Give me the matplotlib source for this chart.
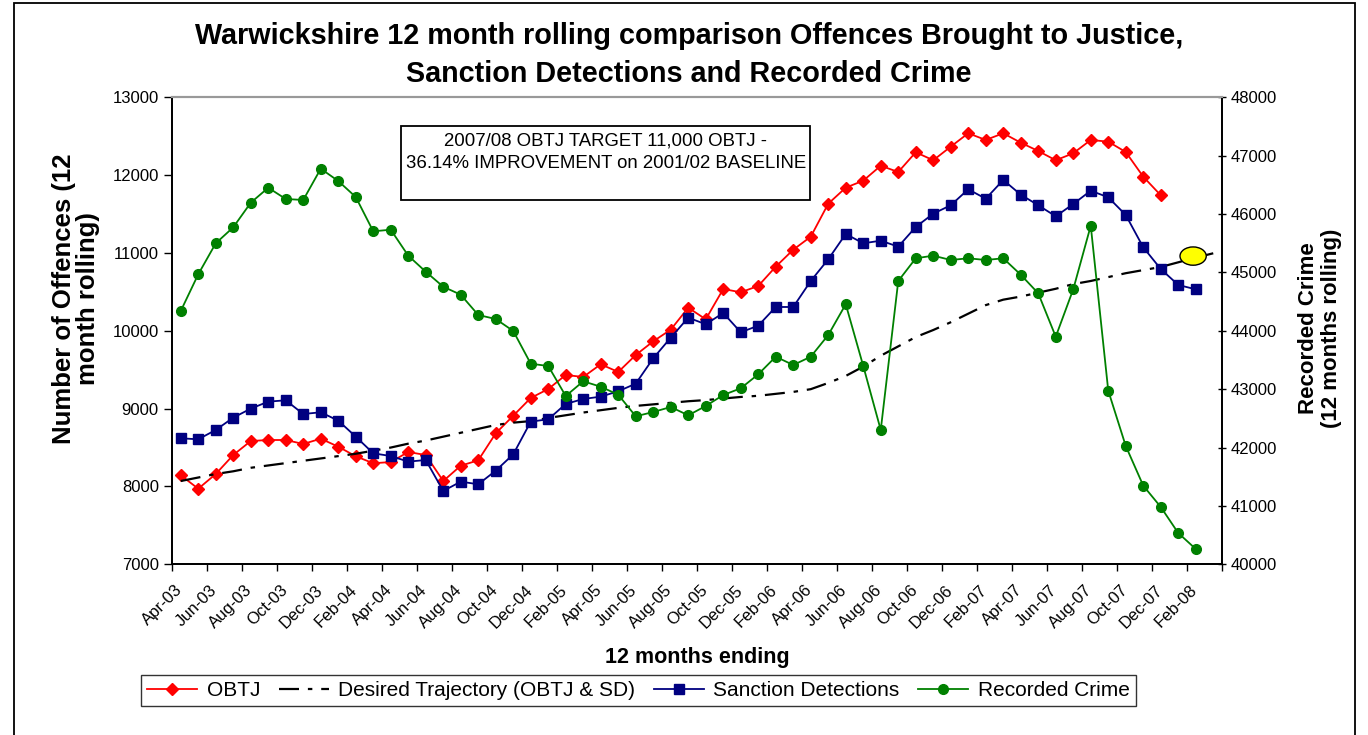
import matplotlib
matplotlib.use("Agg")
import matplotlib.pyplot as plt
from matplotlib.patches import Ellipse, Rectangle

plt.rcParams["font.family"] = ["Liberation Sans", "DejaVu Sans"]

# 12 months ending, Apr-03 .. Mar-08
months = ["Apr", "May", "Jun", "Jul", "Aug", "Sep", "Oct", "Nov", "Dec", "Jan", "Feb", "Mar"]
categories = [f"{months[k % 12]}-{3 + (k + 3) // 12:02d}" for k in range(60)]

obtj = [8144, 7971, 8160, 8404, 8584, 8597, 8597, 8546, 8614, 8511,
        8388, 8298, 8314, 8443, 8404, 8070, 8267, 8336, 8683, 8909,
        9137, 9252, 9432, 9407, 9570, 9471, 9689, 9865, 10015, 10297,
        10148, 10537, 10495, 10576, 10824, 11042, 11209, 11633, 11839, 11929,
        12121, 12040, 12294, 12191, 12366, 12538, 12452, 12538, 12417, 12310,
        12191, 12281, 12452, 12430, 12297, 11980, 11741]

trajectory = [8070, 8115, 8160, 8195, 8240, 8270, 8300, 8330, 8360, 8390,
              8420, 8460, 8500, 8550, 8590, 8640, 8690, 8740, 8790, 8820,
              8840, 8880, 8915, 8950, 8980, 9010, 9035, 9055, 9075, 9095,
              9110, 9130, 9150, 9165, 9190, 9215, 9250, 9330, 9420, 9540,
              9680, 9800, 9920, 10010, 10110, 10220, 10330, 10400, 10440, 10490,
              10540, 10600, 10640, 10690, 10740, 10780, 10820, 10880, 10940, 10996]

sanction = [8619, 8606, 8726, 8884, 9000, 9090, 9107, 8931, 8953, 8846,
            8640, 8426, 8391, 8319, 8340, 7942, 8062, 8028, 8203, 8413,
            8833, 8863, 9060, 9124, 9154, 9223, 9321, 9647, 9912, 10169,
            10084, 10229, 9981, 10066, 10306, 10306, 10640, 10919, 11244, 11124,
            11158, 11081, 11334, 11505, 11613, 11818, 11697, 11938, 11749, 11613,
            11471, 11629, 11800, 11715, 11488, 11073, 10794, 10589, 10533]

recorded = [44339, 44968, 45499, 45773, 46194, 46451, 46258, 46241, 46777, 46566,
            46292, 45704, 45732, 45287, 45012, 44755, 44618, 44271, 44202, 43997,
            43436, 43397, 42883, 43135, 43042, 42905, 42535, 42609, 42695, 42552,
            42712, 42900, 43015, 43255, 43556, 43414, 43556, 43928, 44455, 43397,
            42301, 44853, 45242, 45287, 45213, 45242, 45213, 45242, 44961, 44642,
            43899, 44711, 45800, 42974, 42027, 41347, 40982, 40536, 40262]

target_x = 57.85
target_y = 10960

W, H = 1368, 735
fig = plt.figure(figsize=(W / 100, H / 100), dpi=100)
ax = fig.add_axes([172 / W, 1 - 564.3 / H, 1050 / W, 467 / H])
ax2 = ax.twinx()

l1, = ax.plot(range(len(obtj)), obtj, color="#FF0000", lw=1.3, marker="D",
              markersize=6.5, label="OBTJ")
l2, = ax.plot(range(len(trajectory)), trajectory, color="black", lw=1.6,
              linestyle=(0, (9, 4, 2, 4)), label="Desired Trajectory (OBTJ & SD)")
l3, = ax.plot(range(len(sanction)), sanction, color="#000080", lw=1.3, marker="s",
              markersize=7, label="Sanction Detections")
l4, = ax2.plot(range(len(recorded)), recorded, color="#008000", lw=1.3, marker="o",
               markersize=7, label="Recorded Crime")

ax.add_patch(Ellipse((target_x, target_y), 1.5, 235, facecolor="#FFFF00",
                     edgecolor="black", lw=1, zorder=5))

ax.set_xlim(-0.5, 59.5)
ax.set_ylim(7000, 13000)
ax2.set_ylim(40000, 48000)
ax.set_yticks(range(7000, 13001, 1000))
ax2.set_yticks(range(40000, 48001, 1000))

ax.set_xticks([i - 0.5 for i in range(0, 61, 2)])
ax.set_xticklabels([])
ax.tick_params(axis="x", length=5, width=1, direction="out")
for i in range(0, 60, 2):
    ax.text(i - 0.35, 6770, categories[i], rotation=45, ha="right", va="top",
            rotation_mode="anchor", fontsize=12)

ax.tick_params(axis="y", labelsize=12, length=6, width=1, direction="out")
ax2.tick_params(axis="y", labelsize=12, length=6, width=1, direction="inout")

for a in (ax, ax2):
    a.spines["top"].set_color("#999999")
    a.spines["top"].set_linewidth(1.5)
    for s in ("left", "right", "bottom"):
        a.spines[s].set_linewidth(1.3)

fig.text(76 / W, 1 - 299 / H, "Number of Offences (12\nmonth rolling)", fontsize=18.5,
         fontweight="bold", rotation=90, ha="center", va="center", linespacing=1.0)
fig.text(1320 / W, 1 - 328 / H, "Recorded Crime\n(12 months rolling)", fontsize=16,
         fontweight="bold", rotation=90, ha="center", va="center", linespacing=1.1)
fig.text(697 / W, 1 - 657 / H, "12 months ending", fontsize=15.5,
         fontweight="bold", ha="center", va="center")

fig.text(689 / W, 1 - 55 / H,
         "Warwickshire 12 month rolling comparison Offences Brought to Justice,\n"
         "Sanction Detections and Recorded Crime",
         fontsize=20.7, fontweight="bold", ha="center", va="center", linespacing=1.45)

# target annotation box
fig.patches.append(Rectangle((401 / W, 1 - 200 / H), 409 / W, 74 / H,
                             transform=fig.transFigure, fill=False,
                             edgecolor="black", lw=1.3))
fig.text(606 / W, 1 - 152 / H,
         "2007/08 OBTJ TARGET 11,000 OBTJ -\n36.14% IMPROVEMENT on 2001/02 BASELINE",
         fontsize=13.4, ha="center", va="center", linespacing=1.45)

fig.legend(handles=[l1, l2, l3, l4], loc="center", ncol=4,
           bbox_to_anchor=(638.5 / W, 1 - 690.5 / H), fontsize=15,
           frameon=True, fancybox=False, edgecolor="black", handlelength=2.4,
           borderpad=0.3, columnspacing=0.9, handletextpad=0.45)

fig.patches.append(Rectangle((14 / W, -0.01), 1341 / W, 1 - 3 / H + 0.01,
                             transform=fig.transFigure, fill=False,
                             edgecolor="black", lw=1.3))

fig.savefig("out.png", dpi=100)
